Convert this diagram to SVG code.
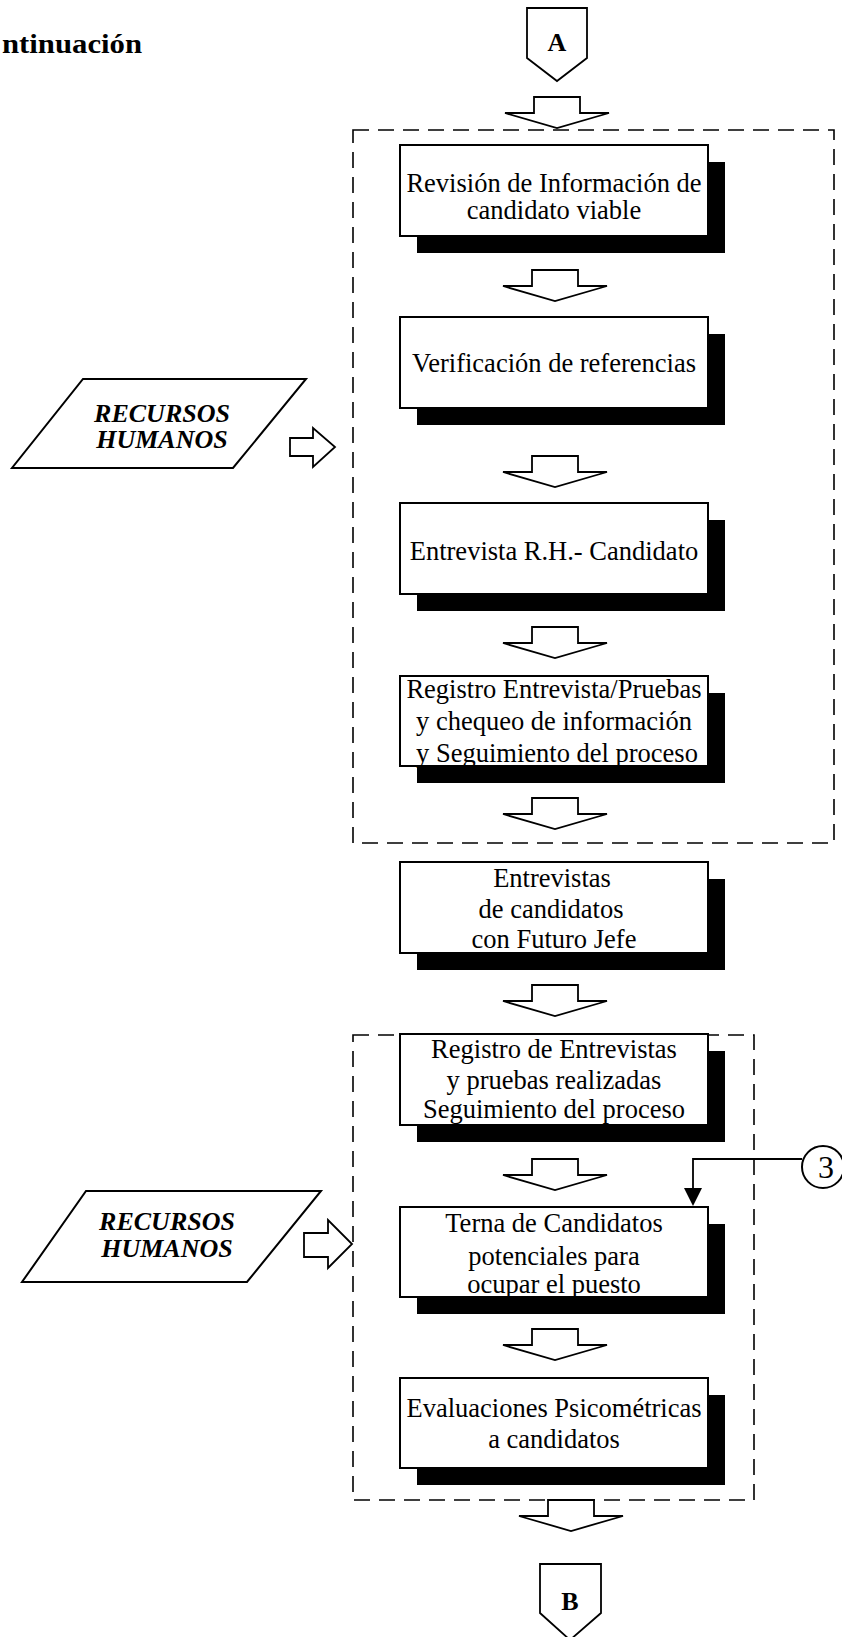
<svg xmlns="http://www.w3.org/2000/svg" width="842" height="1637" viewBox="0 0 842 1637">
<style>
.bg{fill:#fff}
.shadow{fill:#000}
.box{fill:#fff;stroke:#000;stroke-width:2}
.t{font-family:"Liberation Serif","Times New Roman",serif;font-size:26.5px;fill:#000;text-anchor:middle}
.lane{fill:none;stroke:#000;stroke-width:1.6;stroke-dasharray:16 9}
.arr{fill:#fff;stroke:#000;stroke-width:1.8;stroke-linejoin:miter}
.io{fill:#fff;stroke:#000;stroke-width:2}
.iot{font-family:"Liberation Serif","Times New Roman",serif;font-size:26px;font-weight:bold;font-style:italic;fill:#000;text-anchor:middle}
.off{fill:#fff;stroke:#000;stroke-width:1.8}
.offt{font-family:"Liberation Serif","Times New Roman",serif;font-size:26px;font-weight:bold;fill:#000;text-anchor:middle}
.line{fill:none;stroke:#000;stroke-width:1.8}
</style>
<defs>
<path id="darr" d="M-23,0 H23 V16 H52 L0,31 L-52,16 H-23 Z"/>
</defs>
<rect class="bg" x="0" y="0" width="842" height="1637"/>

<g id="title">
<text x="2" y="53" font-family="Liberation Serif, Times New Roman, serif" font-size="28" font-weight="bold" textLength="140" lengthAdjust="spacingAndGlyphs">ntinuación</text>
</g>

<g id="lanes">
<rect class="lane" x="353" y="130" width="481" height="713"/>
<rect class="lane" x="353" y="1035" width="401" height="465"/>
</g>

<g id="offpage-A">
<polygon class="off" points="527,8 587,8 587,58 557,81 527,58"/>
<text class="offt" x="557" y="51">A</text>
</g>

<g id="n1">
<rect class="shadow" x="417" y="162" width="308" height="91"/>
<rect class="box" x="400" y="145" width="308" height="91"/>
<text class="t" x="554" y="192">Revisión de Información de</text>
<text class="t" x="554" y="219">candidato viable</text>
</g>

<g id="n2">
<rect class="shadow" x="417" y="334" width="308" height="91"/>
<rect class="box" x="400" y="317" width="308" height="91"/>
<text class="t" x="554" y="372">Verificación de referencias</text>
</g>

<g id="n3">
<rect class="shadow" x="417" y="520" width="308" height="91"/>
<rect class="box" x="400" y="503" width="308" height="91"/>
<text class="t" x="554" y="560">Entrevista R.H.- Candidato</text>
</g>

<g id="n4">
<rect class="shadow" x="417" y="693" width="308" height="90"/>
<rect class="box" x="400" y="676" width="308" height="90"/>
<text class="t" x="554" y="698">Registro Entrevista/Pruebas</text>
<text class="t" x="554" y="730">y chequeo de información</text>
<text class="t" x="557" y="762">y Seguimiento del proceso</text>
</g>

<g id="n5">
<rect class="shadow" x="417" y="879" width="308" height="91"/>
<rect class="box" x="400" y="862" width="308" height="91"/>
<text class="t" x="552" y="887">Entrevistas</text>
<text class="t" x="551" y="918">de candidatos</text>
<text class="t" x="554" y="948">con Futuro Jefe</text>
</g>

<g id="n6">
<rect class="shadow" x="417" y="1051" width="308" height="91"/>
<rect class="box" x="400" y="1034" width="308" height="91"/>
<text class="t" x="554" y="1058">Registro de Entrevistas</text>
<text class="t" x="554" y="1089">y pruebas realizadas</text>
<text class="t" x="554" y="1118">Seguimiento del proceso</text>
</g>

<g id="n7">
<rect class="shadow" x="417" y="1224" width="308" height="90"/>
<rect class="box" x="400" y="1207" width="308" height="90"/>
<text class="t" x="554" y="1232">Terna de Candidatos</text>
<text class="t" x="554" y="1265">potenciales para</text>
<text class="t" x="554" y="1293">ocupar el puesto</text>
</g>

<g id="n8">
<rect class="shadow" x="417" y="1395" width="308" height="90"/>
<rect class="box" x="400" y="1378" width="308" height="90"/>
<text class="t" x="554" y="1417">Evaluaciones Psicométricas</text>
<text class="t" x="554" y="1448">a candidatos</text>
</g>

<g id="rh1">
<polygon class="io" points="83,379 306,379 233,468 12,468"/>
<text class="iot" x="162" y="422">RECURSOS</text>
<text class="iot" x="162" y="448">HUMANOS</text>
</g>

<g id="rh2">
<polygon class="io" points="86,1191 321,1191 247,1282 22,1282"/>
<text class="iot" x="167" y="1230">RECURSOS</text>
<text class="iot" x="167" y="1257">HUMANOS</text>
</g>

<g id="conn3">
<circle class="io" cx="823" cy="1167" r="21"/>
<text x="826" y="1178" font-family="Liberation Serif, Times New Roman, serif" font-size="32" text-anchor="middle">3</text>
</g>

<g id="offpage-B">
<polygon class="off" points="540,1564 601,1564 601,1613 570,1640 540,1613"/>
<text class="offt" x="570" y="1610">B</text>
</g>

<g id="connectors">
<use href="#darr" class="arr" x="557" y="97"/>
<use href="#darr" class="arr" x="555" y="270"/>
<use href="#darr" class="arr" x="555" y="456"/>
<use href="#darr" class="arr" x="555" y="627"/>
<use href="#darr" class="arr" x="555" y="798"/>
<use href="#darr" class="arr" x="555" y="985"/>
<use href="#darr" class="arr" x="555" y="1159"/>
<use href="#darr" class="arr" x="555" y="1329"/>
<use href="#darr" class="arr" x="571" y="1500"/>
<polygon class="arr" points="290,438 313,438 313,428 335,447 313,467 313,456 290,456"/>
<polygon class="arr" points="304,1233 328,1233 328,1220 352,1244 328,1268 328,1257 304,1257"/>
<polyline class="line" points="802,1159 693,1159 693,1189"/>
<polygon fill="#000" points="684,1188 702,1188 693,1206"/>
</g>
</svg>
